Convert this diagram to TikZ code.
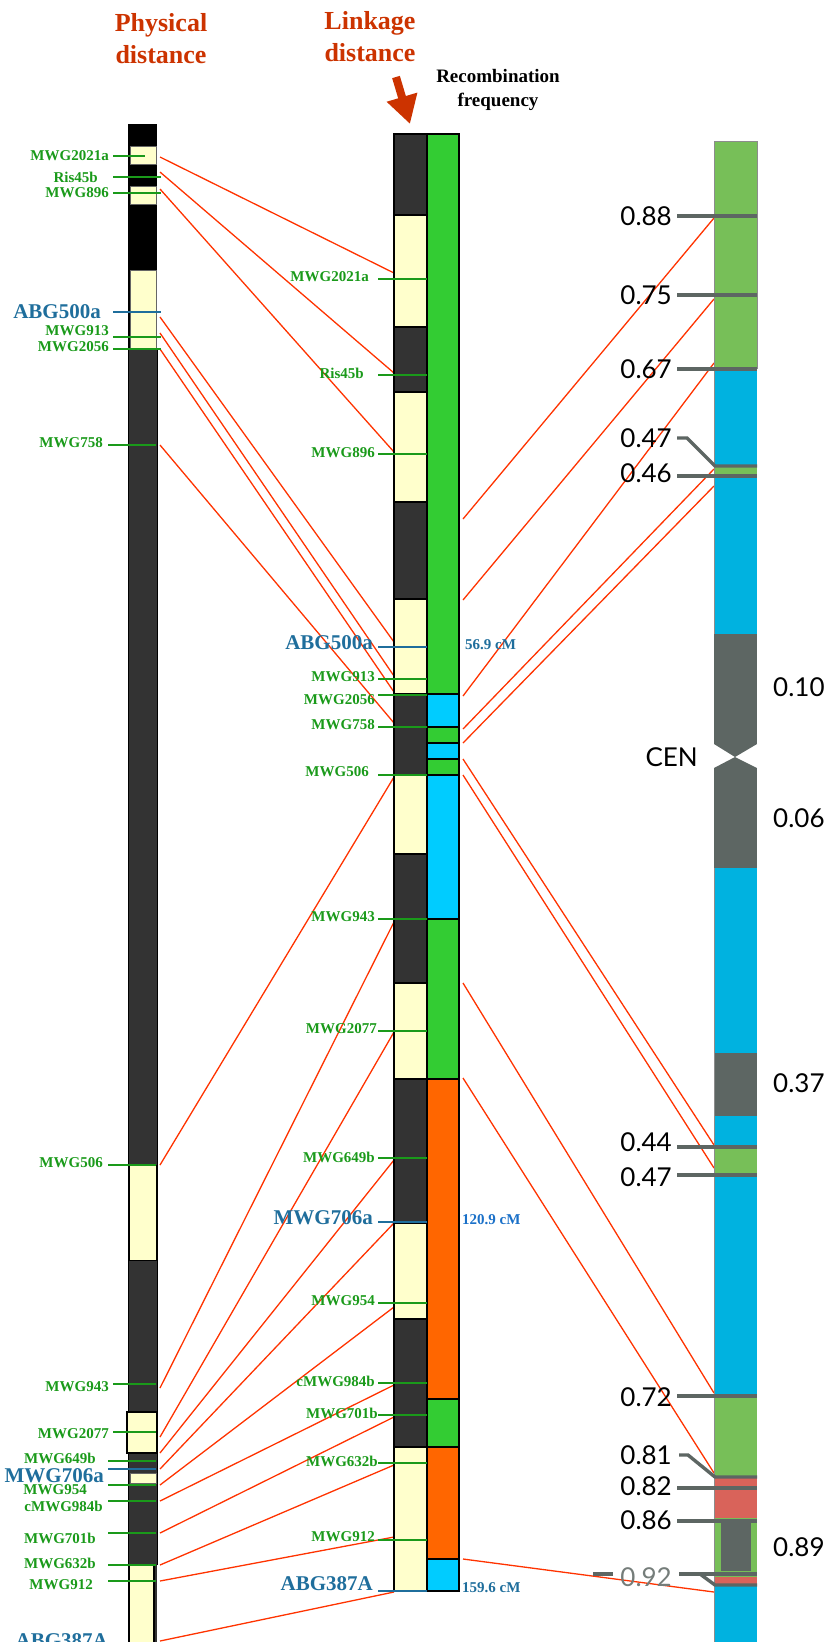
\documentclass[tikz,border=0pt]{standalone}
\usepackage{fontspec}
\setmainfont{Liberation Serif}
\newfontfamily\numfont{Lato}
\usetikzlibrary{arrows.meta}

\definecolor{titlered}{HTML}{CC3300}
\definecolor{linkred}{HTML}{FF3300}
\definecolor{mkgreen}{HTML}{1A9A1A}
\definecolor{mkblue}{HTML}{1F6E9C}
\definecolor{cmblue}{HTML}{1A70C8}
\definecolor{pale}{HTML}{FFFFCC}
\definecolor{darkband}{HTML}{333333}
\definecolor{rfgreen}{HTML}{33CC33}
\definecolor{rfblue}{HTML}{00CCFF}
\definecolor{rforange}{HTML}{FF6600}
\definecolor{chgreen}{HTML}{77BF58}
\definecolor{chblue}{HTML}{00B2E0}
\definecolor{chgray}{HTML}{5D6663}
\definecolor{chred}{HTML}{D9635A}

\tikzset{
  link/.style={linkred, line width=1.3pt},
  gtick/.style={mkgreen, line width=2.6pt},
  btick/.style={mkblue, line width=2.6pt},
  ctick/.style={chgray, line width=3.4pt},
  glabel/.style={anchor=east, inner sep=0pt, text=mkgreen,
    font=\fontsize{15}{15}\selectfont\bfseries},
  blabel/.style={anchor=east, inner sep=0pt, text=mkblue,
    font=\fontsize{21}{21}\selectfont\bfseries},
  cmlabel/.style={anchor=west, inner sep=0pt,
    font=\fontsize{15}{15}\selectfont\bfseries},
  title/.style={align=center, inner sep=0pt, text=titlered,
    font=\fontsize{26}{32}\selectfont\bfseries},
  rflabel/.style={anchor=east, inner sep=0pt, font=\numfont\fontsize{26}{26}\selectfont},
  band/.style={draw=black, line width=1.2pt},
  paleband/.style={fill=pale, draw=black!60, line width=0.6pt}
}

\begin{document}
\begin{tikzpicture}[x=1pt,y=-1pt]
\useasboundingbox (0,0) rectangle (829,1642);

% titles
\node[title] (phys) at (161,39) {Physical\\distance};
\node[title] (link) at (370,37) {Linkage\\distance};
\node[align=center, inner sep=0pt, font=\fontsize{19}{24}\selectfont\bfseries]
  (recf) at (498,90) {Recombination\\frequency};
\coordinate (arrtop) at (396,77);
\coordinate (arrtip) at (410,124);
\draw[titlered, line width=8pt, -{Triangle[length=28pt,width=30pt]}] (arrtop) -- (arrtip);

% links physical -> linkage
\foreach \a/\b [count=\i] in {157/273, 172/373, 189/452, 317/642, 333/676, 349/692,
    445/723, 1165/777, 1388/922, 1437/1032, 1453/1160, 1469/1223, 1485/1307,
    1501/1385, 1533/1417, 1565/1465, 1581/1537, 1641/1592}{
  \coordinate (pa\i) at (160,\a);
  \coordinate (ma\i) at (394,\b);
  \draw[link] (pa\i) -- (ma\i);
}

% links linkage -> chromosome
\foreach \a/\b [count=\i] in {519/218, 600/299, 696/363, 729/469, 743/486,
    759/1145, 775/1168, 983/1393, 1078/1473, 1559/1592}{
  \coordinate (mb\i) at (463,\a);
  \coordinate (cb\i) at (714,\b);
  \draw[link] (mb\i) -- (cb\i);
}

% physical map
\fill[black] (128,124) rectangle (157,349);
\fill[darkband] (128,349) rectangle (157,1642);
\draw[black, line width=1pt] (128,349) -- (128,1642) (157,349) -- (157,1565);
\filldraw[paleband] (130,146) rectangle (156,164);
\filldraw[paleband] (130,186) rectangle (156,204);
\filldraw[paleband] (130,270) rectangle (156,349);
\filldraw[fill=pale, draw=black, line width=1pt] (129,1165) rectangle (156,1260);
\filldraw[fill=pale, draw=black, line width=1.2pt] (127,1412) rectangle (157,1453);
\filldraw[paleband] (130,1473) rectangle (156,1483);
\filldraw[fill=pale, draw=black, line width=1.2pt] (129,1565) rectangle (154,1660);

\foreach \n/\y/\xa/\xb/\lx/\ly in {MWG2021a/156/113/145/109/156, Ris45b/177/113/161/98/177,
    MWG896/193/113/161/109/193, MWG913/337/113/161/109/331, MWG2056/349/113/161/109/347,
    MWG758/445/108/156/103/443, MWG506/1165/108/156/103/1163, MWG943/1384/113/156/109/1387,
    MWG2077/1432/113/156/109/1434, MWG649b/1461/108/156/96/1458, MWG954/1485/108/156/87/1490,
    cMWG984b/1501/108/156/103/1506, MWG701b/1533/108/156/96/1538,
    MWG632b/1565/108/156/96/1563, MWG912/1581/108/156/93/1585}{
  \draw[gtick] (\xa,\y) -- (\xb,\y);
  \node[glabel] (p-\n) at (\lx,\ly) {\n};
}
\draw[btick] (113,312) -- (161,312);
\node[blabel] (p-ABG500a) at (101,312) {ABG500a};
\draw[btick] (108,1469) -- (156,1469);
\node[blabel] (p-MWG706a) at (104,1476) {MWG706a};
\node[blabel] (p-ABG387A) at (108,1641) {ABG387A};

% linkage map
\foreach \ya/\yb/\c in {134/215/darkband, 215/327/pale, 327/392/darkband, 392/502/pale,
    502/599/darkband, 599/694/pale, 694/775/darkband, 775/854/pale, 854/983/darkband,
    983/1079/pale, 1079/1223/darkband, 1223/1319/pale, 1319/1447/darkband, 1447/1591/pale}{
  \filldraw[band, fill=\c] (394,\ya) rectangle (427,\yb);
}
\foreach \ya/\yb/\c in {134/694/rfgreen, 694/727/rfblue, 727/743/rfgreen, 743/759/rfblue,
    759/775/rfgreen, 775/919/rfblue, 919/1079/rfgreen, 1079/1399/rforange,
    1399/1447/rfgreen, 1447/1559/rforange, 1559/1591/rfblue}{
  \filldraw[band, fill=\c] (427,\ya) rectangle (459,\yb);
}

\foreach \n/\y/\lx/\ly in {MWG2021a/279/369/277, Ris45b/375/364/373, MWG896/454/375/453,
    MWG913/679/375/677, MWG2056/695/375/700, MWG758/727/375/725, MWG506/775/369/772,
    MWG943/919/375/917, MWG2077/1031/377/1029, MWG649b/1158/375/1157,
    MWG954/1303/375/1301, cMWG984b/1383/375/1381, MWG701b/1415/378/1413,
    MWG632b/1463/378/1461, MWG912/1540/375/1537}{
  \draw[gtick] (378,\y) -- (427,\y);
  \node[glabel] (m-\n) at (\lx,\ly) {\n};
}
\foreach \n/\y/\ly in {ABG500a/647/643, MWG706a/1222/1218, ABG387A/1591/1584}{
  \draw[btick] (378,\y) -- (427,\y);
  \node[blabel] (m-\n) at (373,\ly) {\n};
}
\node[cmlabel, text=mkblue] (cm1) at (465,645) {56.9 cM};
\node[cmlabel, text=cmblue] (cm2) at (462,1220) {120.9 cM};
\node[cmlabel, text=mkblue] (cm3) at (462,1588) {159.6 cM};

% chromosome
\foreach \ya/\yb/\c in {141/369/chgreen, 369/466/chblue, 466/476/chgreen, 476/634/chblue,
    634/744/chgray, 768/868/chgray, 868/1053/chblue, 1053/1116/chgray, 1116/1147/chblue,
    1147/1175/chgreen, 1175/1395/chblue, 1395/1477/chgreen, 1477/1518/chred,
    1518/1577/chgreen, 1577/1586/chred, 1586/1642/chblue}{
  \fill[\c] (714,\ya) rectangle (757,\yb);
}
\fill[chgray] (714,744) -- (757,744) -- (735,757) -- cycle;
\fill[chgray] (714,768) -- (757,768) -- (735,757) -- cycle;
\fill[chgray] (721,1522) rectangle (751,1571);
\draw[black!45, line width=0.8pt] (714,634) -- (714,141) -- (757,141) -- (757,369);
\draw[black!45, line width=0.8pt] (714,868) -- (714,1642);

\foreach \v/\y in {0.88/216, 0.75/295, 0.67/369, 0.46/476, 0.44/1147, 0.47/1175,
    0.72/1396, 0.82/1488, 0.86/1521}{
  \draw[ctick] (677,\y) -- (757,\y);
}
\draw[ctick] (677,438) -- (687,438) -- (715,466) -- (757,466);
\draw[ctick] (679,1455) -- (688,1455) -- (715,1477) -- (757,1477);
\draw[ctick] (679,1574) -- (757,1574);
\draw[ctick] (700,1574) -- (715,1585) -- (757,1585);
\draw[ctick] (593,1574) -- (613,1574);

\foreach \v/\y [count=\i] in {0.88/216, 0.75/295, 0.67/369, 0.47/438, 0.46/473,
    0.44/1142, 0.47/1177, 0.72/1397, 0.81/1455, 0.82/1486, 0.86/1520}{
  \node[rflabel] (rf\i) at (672,\y) {\v};
}
\node[rflabel, text=chgray!85] (rf92) at (672,1577) {0.92};
\node[rflabel] (cen) at (698,757) {CEN};
\node[rflabel, anchor=west] (rf10) at (773,687) {0.10};
\node[rflabel, anchor=west] (rf06) at (773,818) {0.06};
\node[rflabel, anchor=west] (rf37) at (773,1083) {0.37};
\node[rflabel, anchor=west] (rf89) at (773,1547) {0.89};
\end{tikzpicture}
\end{document}
